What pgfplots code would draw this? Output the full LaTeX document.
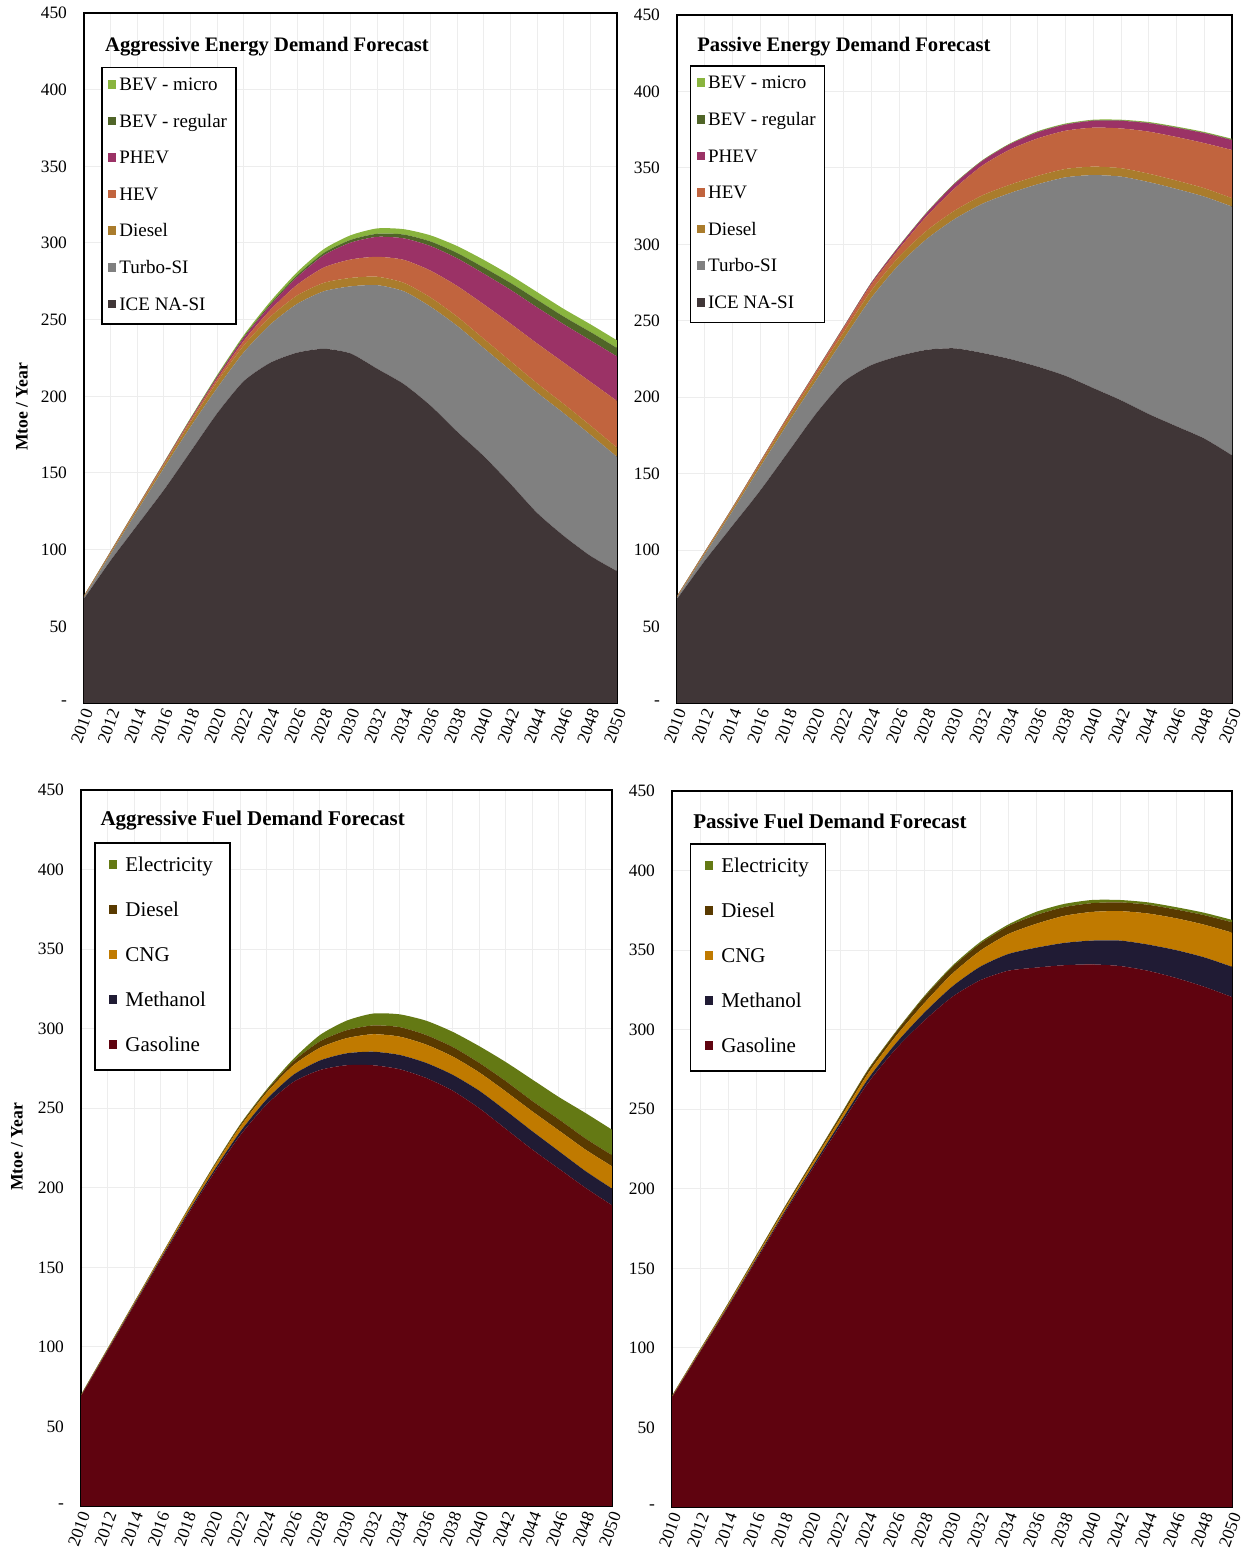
\documentclass[border=0pt]{standalone}
\usepackage{fontspec}
\setmainfont{Liberation Serif}
\usepackage{pgfplots}
\usepackage{pgfplotstable}
\pgfplotsset{compat=1.18}

% vehicle colours
\definecolor{cBEVm}{RGB}{137,180,62}
\definecolor{cBEVr}{RGB}{80,101,40}
\definecolor{cPHEV}{RGB}{155,50,102}
\definecolor{cHEV}{RGB}{193,100,62}
\definecolor{cDsl}{RGB}{170,124,44}
\definecolor{cTurbo}{RGB}{128,128,128}
\definecolor{cICE}{RGB}{64,54,55}
% fuel colours
\definecolor{cElec}{RGB}{100,121,20}
\definecolor{cDies}{RGB}{89,58,0}
\definecolor{cCNG}{RGB}{192,122,0}
\definecolor{cMeth}{RGB}{32,27,52}
\definecolor{cGas}{RGB}{95,3,15}

% Aggressive energy (Mtoe / year)
\pgfplotstableread{
year ice turbo diesel hev phev bevr bevm
2010 68 1 0.5 0.2 0.1 0.1 0.1
2012 93 4.2 1 0.3 0.2 0.1 0.2
2014 116 9.4 1.5 0.5 0.3 0.1 0.2
2016 139 14.2 2 0.8 0.5 0.2 0.3
2018 164 16.2 3 1.2 0.8 0.3 0.5
2020 189 16.5 4 2 1.3 0.5 0.7
2022 210 18.8 4.5 3 2 0.7 1
2024 222 25 5 4.5 3 1 1.5
2026 228.5 31.8 5.5 7 5 1.2 2
2028 231 37.5 5.5 10 8 1.5 2.5
2030 228 43.7 5.5 12 11 1.8 3
2032 218 54.5 5.5 13 13 2 3.5
2034 208 60.5 5.5 15 14 2.5 3.5
2036 194 64.5 6 17.5 16 3 4
2038 177 69 6 20 18 3.5 4.5
2040 161 70.5 6 22.5 20 4 5
2042 143 74 6 24.5 22 4.5 5
2044 124 78.5 6 26 23.5 5 5
2046 109 80 6 27 25 5 5
2048 96 79 6 28.5 27 5.5 5
2050 86 74.5 6 30.5 29 5.5 5
}\aggEnergy

% Passive energy
\pgfplotstableread{
year ice turbo diesel hev phev bevr bevm
2010 68 1 0.5 0.2 0.1 0.1 0.1
2012 93 4.2 1 0.4 0.2 0.1 0.1
2014 116 9.5 1.5 0.6 0.2 0.1 0.1
2016 139 15.5 2 1 0.3 0.1 0.1
2018 164 19 2.8 1.5 0.4 0.1 0.2
2020 189 21.7 3.5 2 0.5 0.1 0.2
2022 210 28 4.2 2.8 0.7 0.1 0.2
2024 221 43.9 4.8 4 1 0.1 0.2
2026 227 59.7 5.2 5.2 1.5 0.2 0.2
2028 231 72.5 5.5 9.5 2 0.2 0.3
2030 232 84.5 5.5 14.5 3 0.2 0.3
2032 229 97.5 5.5 19.5 3 0.2 0.3
2034 225 108.5 5.5 23 3.5 0.2 0.3
2036 220 119.3 5.5 24.5 4 0.3 0.4
2038 214 129.8 5.5 25 4 0.3 0.4
2040 206 139.3 5.5 25.5 4.5 0.3 0.4
2042 198 146.3 5.5 26 5 0.3 0.4
2044 189 151.7 5.5 27.5 5.5 0.3 0.5
2046 181 155.2 5.5 28.5 6 0.3 0.5
2048 173 158.2 5.5 29.5 6.5 0.3 0.5
2050 162 162.7 5.5 31.5 6.5 0.3 0.5
}\pasEnergy

% Aggressive fuel
\pgfplotstableread{
year gas meth cng dsl elec
2010 69 0.3 0.3 0.2 0.2
2012 97.5 0.5 0.5 0.3 0.2
2014 126 0.7 0.7 0.4 0.2
2016 154.5 0.9 1 0.4 0.2
2018 182.5 1.2 1.5 0.5 0.3
2020 209 1.6 2.2 0.7 0.5
2022 233 2.3 3.2 1 0.5
2024 252.5 3.2 4.3 1.3 0.7
2026 266.5 4.5 6 2.5 1.5
2028 274 6 8 4 4
2030 277 7.5 9.5 5 6
2032 277 8.5 11 5.5 7.5
2034 274.5 9 11.5 6 8
2036 269 9.5 11.5 6 9
2038 261 10 11.5 6 9.5
2040 250 11 11.5 6 10.5
2042 237 11.5 12 6.5 12
2044 224 11.5 12.5 6.5 13.5
2046 212 11 13 7 14
2048 200 10.5 13.5 7 16
2050 189 10.5 14 7 16
}\aggFuel

% Passive fuel
\pgfplotstableread{
year gas meth cng dsl elec
2010 68.9 0.3 0.4 0.3 0.1
2012 97.3 0.4 0.6 0.5 0.2
2014 125.6 0.6 0.9 0.6 0.3
2016 154.8 0.9 1.2 0.8 0.3
2018 184 1.1 1.6 1 0.3
2020 212 1.5 2 1.2 0.3
2022 239.5 2 2.5 1.5 0.5
2024 266.5 2.5 3.5 2 0.5
2026 288 3.5 4.5 2.5 0.5
2028 305.5 5 6 3.8 0.7
2030 320.5 6.5 8 4.2 0.8
2032 331 8.5 10 4.5 1
2034 337 10.5 12.5 5 1
2036 339 12.5 15 5.5 2
2038 340.5 14 17 5.5 2
2040 341 15 18 5.5 2
2042 340 16 18.5 5.5 1.5
2044 337 16.5 19.5 5.5 1.5
2046 332.5 17.5 20 5.5 1.5
2048 327 18.5 20.5 6 1.5
2050 320.5 19 21.5 6.5 1.5
}\pasFuel

\tikzset{
  etitle/.style={anchor=west, inner sep=0pt, font=\bfseries\fontsize{10.3}{12}\selectfont},
  ftitle/.style={anchor=west, inner sep=0pt, font=\bfseries\fontsize{10.5}{12}\selectfont},
}

\pgfplotsset{
  panel/.style={
    scale only axis,
    xmin=2010, xmax=2050, ymin=0, ymax=450,
    xtick={2010,2012,...,2050}, minor x tick num=1,
    ytick={0,50,...,450},
    yticklabels={-,50,100,150,200,250,300,350,400,450},
    xmajorgrids, xminorgrids, ymajorgrids,
    grid style={draw=black!7, line width=0.5pt},
    minor grid style={draw=black!7, line width=0.5pt},
    major tick length=0pt, minor tick length=0pt,
    tick label style={font=\fontsize{8.7}{10}\selectfont},
    /pgf/number format/1000 sep={},
    /pgf/number format/assume math mode=true,
    xticklabel style={rotate=70, anchor=east, xshift=1pt, yshift=-3pt},
    yticklabel style={xshift=-5pt},
    axis line style={line width=0.8pt},
    stack plots=y, area style, axis on top=false,
    every axis plot/.append style={smooth, tension=0.4},
    legend image code/.code={\fill[##1] (0pt,-1.25pt) rectangle (4.3pt,3.05pt);},
    reverse legend, legend cell align=left,
  },
  vehlegend/.style={
    legend style={anchor=north west, draw=black, line width=0.75pt,
      font=\fontsize{9.5}{11}\selectfont, inner xsep=3pt, inner ysep=3.5pt,
      row sep=6.8pt,
      nodes={text height=6.5pt, text depth=2pt, inner sep=1.5pt}},
  },
  fuellegend/.style={
    legend style={anchor=north west, draw=black, line width=0.75pt,
      font=\fontsize{10.5}{12}\selectfont, inner xsep=7pt, inner ysep=5.5pt,
      row sep=10.1pt, column sep=2.5pt,
      nodes={text height=7.2pt, text depth=2.2pt, inner sep=1.5pt}},
  },
}

\begin{document}
\begin{tikzpicture}

% ---- Aggressive energy
\begin{axis}[panel, vehlegend, at={(42pt,427.5pt)}, anchor=south west,
  width=266.5pt, height=345pt,
  legend style={at={(0.032,0.922)}}]
\addplot[fill=cICE, draw=none] table[x=year,y=ice]{\aggEnergy} \closedcycle;
\addplot[fill=cTurbo, draw=none] table[x=year,y=turbo]{\aggEnergy} \closedcycle;
\addplot[fill=cDsl, draw=none] table[x=year,y=diesel]{\aggEnergy} \closedcycle;
\addplot[fill=cHEV, draw=none] table[x=year,y=hev]{\aggEnergy} \closedcycle;
\addplot[fill=cPHEV, draw=none] table[x=year,y=phev]{\aggEnergy} \closedcycle;
\addplot[fill=cBEVr, draw=none] table[x=year,y=bevr]{\aggEnergy} \closedcycle;
\addplot[fill=cBEVm, draw=none] table[x=year,y=bevm]{\aggEnergy} \closedcycle;
\legend{ICE NA-SI,Turbo-SI,Diesel,HEV,PHEV,BEV - regular,BEV - micro}
\draw[line width=0.8pt] (rel axis cs:0,0) rectangle (rel axis cs:1,1);
\node[etitle] at (rel axis cs:0.039,0.951) {Aggressive Energy Demand Forecast};
\end{axis}

% ---- Passive energy
\begin{axis}[panel, vehlegend, at={(338.5pt,427.5pt)}, anchor=south west,
  width=277.5pt, height=344pt,
  legend style={at={(0.023,0.927)}}]
\addplot[fill=cICE, draw=none] table[x=year,y=ice]{\pasEnergy} \closedcycle;
\addplot[fill=cTurbo, draw=none] table[x=year,y=turbo]{\pasEnergy} \closedcycle;
\addplot[fill=cDsl, draw=none] table[x=year,y=diesel]{\pasEnergy} \closedcycle;
\addplot[fill=cHEV, draw=none] table[x=year,y=hev]{\pasEnergy} \closedcycle;
\addplot[fill=cPHEV, draw=none] table[x=year,y=phev]{\pasEnergy} \closedcycle;
\addplot[fill=cBEVr, draw=none] table[x=year,y=bevr]{\pasEnergy} \closedcycle;
\addplot[fill=cBEVm, draw=none] table[x=year,y=bevm]{\pasEnergy} \closedcycle;
\legend{ICE NA-SI,Turbo-SI,Diesel,HEV,PHEV,BEV - regular,BEV - micro}
\draw[line width=0.8pt] (rel axis cs:0,0) rectangle (rel axis cs:1,1);
\node[etitle] at (rel axis cs:0.036,0.954) {Passive Energy Demand Forecast};
\end{axis}

% ---- Aggressive fuel
\begin{axis}[panel, fuellegend, at={(40.5pt,26pt)}, anchor=south west,
  width=265.5pt, height=358pt,
  legend style={at={(0.0245,0.927)}}]
\addplot[fill=cGas, draw=none] table[x=year,y=gas]{\aggFuel} \closedcycle;
\addplot[fill=cMeth, draw=none] table[x=year,y=meth]{\aggFuel} \closedcycle;
\addplot[fill=cCNG, draw=none] table[x=year,y=cng]{\aggFuel} \closedcycle;
\addplot[fill=cDies, draw=none] table[x=year,y=dsl]{\aggFuel} \closedcycle;
\addplot[fill=cElec, draw=none] table[x=year,y=elec]{\aggFuel} \closedcycle;
\legend{Gasoline,Methanol,CNG,Diesel,Electricity}
\draw[line width=0.8pt] (rel axis cs:0,0) rectangle (rel axis cs:1,1);
\node[ftitle] at (rel axis cs:0.036,0.957) {Aggressive Fuel Demand Forecast};
\end{axis}

% ---- Passive fuel
\begin{axis}[panel, fuellegend, at={(336pt,25.5pt)}, anchor=south west,
  width=280pt, height=358pt,
  legend style={at={(0.032,0.927)}}]
\addplot[fill=cGas, draw=none] table[x=year,y=gas]{\pasFuel} \closedcycle;
\addplot[fill=cMeth, draw=none] table[x=year,y=meth]{\pasFuel} \closedcycle;
\addplot[fill=cCNG, draw=none] table[x=year,y=cng]{\pasFuel} \closedcycle;
\addplot[fill=cDies, draw=none] table[x=year,y=dsl]{\pasFuel} \closedcycle;
\addplot[fill=cElec, draw=none] table[x=year,y=elec]{\pasFuel} \closedcycle;
\legend{Gasoline,Methanol,CNG,Diesel,Electricity}
\draw[line width=0.8pt] (rel axis cs:0,0) rectangle (rel axis cs:1,1);
\node[ftitle] at (rel axis cs:0.0375,0.958) {Passive Fuel Demand Forecast};
\end{axis}

% y axis titles
\node[rotate=90, font=\bfseries\fontsize{8.8}{10}\selectfont] at (11pt,575.5pt) {Mtoe / Year};
\node[rotate=90, font=\bfseries\fontsize{8.8}{10}\selectfont] at (8.5pt,205.5pt) {Mtoe / Year};
% fix the page to the reference size
\path (0,0) rectangle (622pt,779pt);
\end{tikzpicture}
\end{document}
